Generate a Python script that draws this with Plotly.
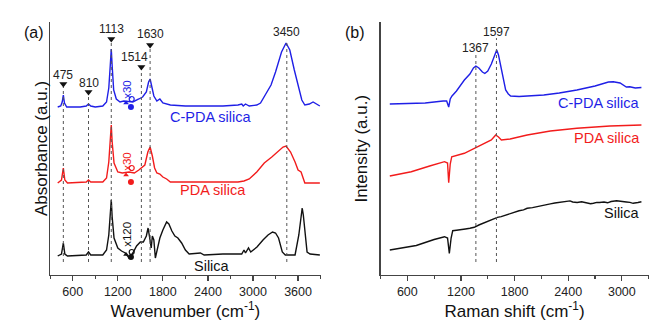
import plotly.graph_objects as go

W, H = 649, 323

# ---------------- Panel (a): FTIR ----------------
ftir_cpda_x = [400, 440, 460, 475, 490, 520, 700, 780, 810, 840, 900, 1000, 1050, 1080, 1100, 1113, 1125, 1145, 1180, 1230, 1280, 1400, 1480, 1530, 1580, 1610, 1630, 1650, 1680, 1720, 1760, 1800, 1900, 2100, 2400, 2600, 2800, 2850, 2870, 2900, 2950, 3050, 3100, 3150, 3200, 3240, 3300, 3380, 3440, 3490, 3550, 3600, 3650, 3690, 3750, 3800, 3850, 3890]
ftir_cpda_y = [168, 169, 173, 180, 172, 168, 168, 169, 171, 169, 168, 169, 173, 187, 210, 226, 209, 185, 176, 173, 174, 173, 176, 178, 183, 193, 196, 190, 179, 174, 176, 172, 170, 169, 169, 169, 170, 171, 169, 171, 169, 170, 172, 178, 185, 190, 203, 223, 232, 225, 205, 190, 175, 170, 171, 173, 171, 169]

ftir_pda_x = [400, 450, 475, 495, 530, 780, 810, 840, 1000, 1050, 1080, 1100, 1113, 1125, 1150, 1200, 1260, 1350, 1420, 1480, 1514, 1560, 1600, 1630, 1660, 1690, 1720, 1760, 1800, 1850, 1900, 2500, 2800, 2880, 2950, 3050, 3150, 3250, 3330, 3400, 3440, 3500, 3560, 3600, 3640, 3690, 3890]
ftir_pda_y = [92, 95, 107, 95, 92, 93, 95, 93, 93, 97, 113, 135, 150, 133, 112, 103, 102, 103, 102, 105, 107, 110, 123, 128, 119, 107, 102, 101, 98, 96, 93, 93, 93, 94, 96, 103, 112, 118, 123, 128, 129, 123, 113, 105, 103, 92, 92]

ftir_si_x = [400, 450, 475, 495, 530, 780, 810, 840, 1000, 1050, 1080, 1100, 1113, 1125, 1150, 1200, 1250, 1300, 1350, 1400, 1450, 1500, 1540, 1580, 1603, 1625, 1645, 1660, 1680, 1700, 1720, 1760, 1800, 1850, 1880, 1920, 1960, 2000, 2050, 2100, 2150, 2300, 2350, 2600, 2850, 2880, 2900, 2940, 2970, 3053, 3133, 3200, 3260, 3300, 3340, 3390, 3430, 3560, 3610, 3640, 3655, 3670, 3700, 3720, 3760, 3890]
ftir_si_y = [19, 21, 32, 21, 19, 20, 23, 20, 20, 25, 40, 60, 75, 58, 37, 27, 24, 22, 17, 22, 29, 33, 33, 39, 47, 37, 27, 39, 35, 17, 25, 37, 45, 53, 51, 44, 39, 37, 32, 25, 21, 22, 20, 21, 21, 25, 22, 27, 23, 28, 35, 40, 43, 42, 37, 23, 20, 20, 40, 63, 67, 60, 35, 23, 21, 20]

ftir_peaks = [475, 810, 1113, 1514, 1630, 3450]
ftir_peak_labels = ["475", "810", "1113", "1514", "1630", "3450"]

# ---------------- Panel (b): Raman ----------------
raman_cpda_x = [404, 600, 800, 1000, 1040, 1063, 1080, 1100, 1150, 1238, 1300, 1340, 1367, 1400, 1440, 1467, 1500, 1540, 1570, 1600, 1620, 1652, 1680, 1700, 1730, 1756, 1850, 2127, 2300, 2497, 2700, 2850, 2904, 2980, 3050, 3089, 3150, 3219]
raman_cpda_y = [171, 171.5, 172, 174, 174, 168, 176, 179, 184, 195, 201, 207, 209, 207, 203, 201.5, 204, 211, 219, 225, 220, 205, 193, 185, 181, 179, 178.5, 180, 182, 185, 189, 193, 193.3, 192, 188, 188.3, 187, 187.5]

raman_pda_x = [404, 644, 850, 1016, 1050, 1063, 1080, 1097, 1238, 1367, 1456, 1540, 1589, 1620, 1652, 1750, 1941, 2200, 2497, 2867, 3219]
raman_pda_y = [99, 103.3, 109, 113.3, 112, 92.3, 111, 118.3, 121.7, 127.7, 131, 135, 140, 138, 135, 136, 140, 144, 146.7, 149, 150]

raman_si_x = [404, 460, 520, 580, 644, 700, 750, 800, 850, 900, 950, 1016, 1050, 1070, 1090, 1108, 1150, 1180, 1220, 1250, 1300, 1349, 1400, 1450, 1490, 1530, 1570, 1608, 1650, 1700, 1750, 1800, 1850, 1900, 1941, 2000, 2050, 2100, 2150, 2200, 2250, 2300, 2386, 2420, 2450, 2500, 2550, 2600, 2650, 2682, 2720, 2750, 2800, 2840, 2880, 2941, 2980, 3000, 3050, 3090, 3126, 3180, 3219]
raman_si_y = [25, 25.8, 26.5, 27.6, 28.3, 29.5, 31, 32.8, 34, 35.5, 37, 38.3, 37, 21.7, 37, 44.3, 44.8, 45, 45.8, 46, 46.7, 47.7, 50, 52, 53.3, 54.5, 56.1, 57.7, 58.4, 60, 61.4, 62.5, 64.2, 65.1, 66.7, 67.4, 68.5, 69.6, 70, 71.1, 72, 72.6, 73.3, 74.1, 73, 72.5, 73.2, 72.3, 71.3, 71.7, 72.6, 72.5, 73, 72.2, 73.5, 74.3, 73.6, 73.5, 73, 72.6, 71.7, 72.5, 73.3]

raman_peaks = [1367, 1597]
raman_peak_labels = ["1367", "1597"]

BLUE, RED, BLACK, GRAY = "#1f1fe6", "#f21c1c", "#111111", "#555555"

fig = go.Figure()

def curve(x, y, color, ax):
    fig.add_trace(go.Scatter(x=x, y=y, mode="lines", line=dict(color=color, width=1.4),
                             xaxis="x" if ax == 1 else "x2", yaxis="y" if ax == 1 else "y2",
                             showlegend=False, hoverinfo="skip"))

curve(ftir_cpda_x, ftir_cpda_y, BLUE, 1)
curve(ftir_pda_x, ftir_pda_y, RED, 1)
curve(ftir_si_x, ftir_si_y, BLACK, 1)
curve(raman_cpda_x, raman_cpda_y, BLUE, 2)
curve(raman_pda_x, raman_pda_y, RED, 2)
curve(raman_si_x, raman_si_y, BLACK, 2)

# layout positions for peak markers (a): top of dotted line, arrow height, label height, label shift
ftir_line_top = [188, 180, 234, 206, 228, 235]
ftir_arrow = [191, 183, 236, 208, 230, None]
ftir_label_y = [200, 192, 246, 218, 241, 243]
ftir_label_dx = [0, 0, 0, -95, 0, 0]
for p, lt in zip(ftir_peaks, ftir_line_top):
    fig.add_trace(go.Scatter(x=[p, p], y=[13, lt], mode="lines",
                             line=dict(color=GRAY, width=1, dash="dot"),
                             showlegend=False, hoverinfo="skip"))
ax_ = [p for p, a in zip(ftir_peaks, ftir_arrow) if a is not None]
ay_ = [a for a in ftir_arrow if a is not None]
fig.add_trace(go.Scatter(x=ax_, y=ay_, mode="markers",
                         marker=dict(symbol="triangle-down", size=7, color=BLACK),
                         showlegend=False, hoverinfo="skip"))
for p, t, ly, dx in zip(ftir_peaks, ftir_peak_labels, ftir_label_y, ftir_label_dx):
    fig.add_annotation(x=p + dx, y=ly, xref="x", yref="y", text=t, showarrow=False,
                       font=dict(size=12, color="#222"))

raman_line_top = [220, 237]
raman_label_y = [227, 243]
for p, lt in zip(raman_peaks, raman_line_top):
    fig.add_trace(go.Scatter(x=[p, p], y=[13, lt], mode="lines",
                             line=dict(color=GRAY, width=1, dash="dot"),
                             xaxis="x2", yaxis="y2", showlegend=False, hoverinfo="skip"))
for p, t, ly in zip(raman_peaks, raman_peak_labels, raman_label_y):
    fig.add_annotation(x=p, y=ly, xref="x2", yref="y2", text=t, showarrow=False,
                       font=dict(size=12, color="#222"))

# scale-factor indicators near 1350 cm-1
scale_x_text = [1320, 1320, 1320]
scale_texts = ["x30", "x30", "x120"]
scale_text_y = [186, 114, 41]
scale_colors = [BLUE, RED, BLACK]
scale_open_y = [176, 107, 23]
scale_fill_y = [168, 93, 18]
for xt, t, ty, c, oy, fy in zip(scale_x_text, scale_texts, scale_text_y, scale_colors, scale_open_y, scale_fill_y):
    fig.add_annotation(x=xt, y=ty, xref="x", yref="y", text=t, textangle=-90, showarrow=False,
                       font=dict(size=11.5, color=c))
    fig.add_trace(go.Scatter(x=[1385], y=[oy], mode="markers",
                             marker=dict(symbol="circle-open", size=5, color=c, line=dict(width=1.2)),
                             showlegend=False, hoverinfo="skip"))
    fig.add_trace(go.Scatter(x=[1375], y=[fy], mode="markers",
                             marker=dict(symbol="circle", size=6, color=c),
                             showlegend=False, hoverinfo="skip"))
    fig.add_trace(go.Scatter(x=[1310], y=[(oy + fy) / 2], mode="markers",
                             marker=dict(symbol="triangle-up", size=5, color=c),
                             showlegend=False, hoverinfo="skip"))

# sample labels
fig.add_annotation(x=2440, y=158, xref="x", yref="y", text="C-PDA silica", showarrow=False, font=dict(size=14.5, color=BLUE))
fig.add_annotation(x=2470, y=85, xref="x", yref="y", text="PDA silica", showarrow=False, font=dict(size=14.5, color=RED))
fig.add_annotation(x=2455, y=9, xref="x", yref="y", text="Silica", showarrow=False, font=dict(size=14.5, color=BLACK))
fig.add_annotation(x=3225, y=172, xref="x2", yref="y2", text="C-PDA silica", xanchor="right", showarrow=False, font=dict(size=14.5, color=BLUE))
fig.add_annotation(x=3225, y=137, xref="x2", yref="y2", text="PDA silica", xanchor="right", showarrow=False, font=dict(size=14.5, color=RED))
fig.add_annotation(x=3225, y=62, xref="x2", yref="y2", text="Silica", xanchor="right", showarrow=False, font=dict(size=14.5, color=BLACK))

# panel letters and y titles
fig.add_annotation(x=22 / W, y=1 - 22 / H, xref="paper", yref="paper", text="(a)", showarrow=False, font=dict(size=16, color="#111"))
fig.add_annotation(x=355 / W, y=1 - 22 / H, xref="paper", yref="paper", text="(b)", showarrow=False, font=dict(size=16, color="#111"))
fig.add_annotation(x=30 / W, y=0.54, xref="paper", yref="paper", text="Absorbance (a.u.)", textangle=-90, showarrow=False, font=dict(size=17, color="#111"))
fig.add_annotation(x=362 / W, y=0.54, xref="paper", yref="paper", text="Intensity (a.u.)", textangle=-90, showarrow=False, font=dict(size=17, color="#111"))

ydom = [48 / H, 301 / H]
xcommon = dict(showline=True, linecolor="#444", linewidth=1.3, ticks="outside", ticklen=5, tickwidth=1.2,
               tickcolor="#444", showgrid=False, zeroline=False, tick0=600, dtick=600,
               tickfont=dict(size=12.5, color="#222"),
               minor=dict(ticks="outside", ticklen=3, tickcolor="#444", dtick=300, tick0=300, showgrid=False))
ycommon = dict(showline=True, linecolor="#444", linewidth=1.3, ticks="", showticklabels=False,
               showgrid=False, zeroline=False, range=[0, 253], domain=ydom)

fig.update_layout(
    width=W, height=H, margin=dict(l=0, r=0, t=0, b=0),
    paper_bgcolor="white", plot_bgcolor="white",
    font=dict(family="Arial, Liberation Sans, sans-serif"),
    xaxis=dict(**xcommon, domain=[50.2 / W, 320.6 / W], range=[300, 3900], anchor="y",
               title=dict(text="Wavenumber (cm<sup>-1</sup>)", font=dict(size=17, color="#111"), standoff=4)),
    yaxis=dict(**ycommon, anchor="x"),
    xaxis2=dict(**xcommon, domain=[380.5 / W, 0.9995], range=[300, 3300], anchor="y2",
                title=dict(text="Raman shift (cm<sup>-1</sup>)", font=dict(size=17, color="#111"), standoff=4)),
    yaxis2=dict(**ycommon, anchor="x2"),
)

fig.write_html("out.html", config={"displayModeBar": False, "staticPlot": True},
               post_script="document.body.style.margin='0';document.body.style.overflow='hidden';")
